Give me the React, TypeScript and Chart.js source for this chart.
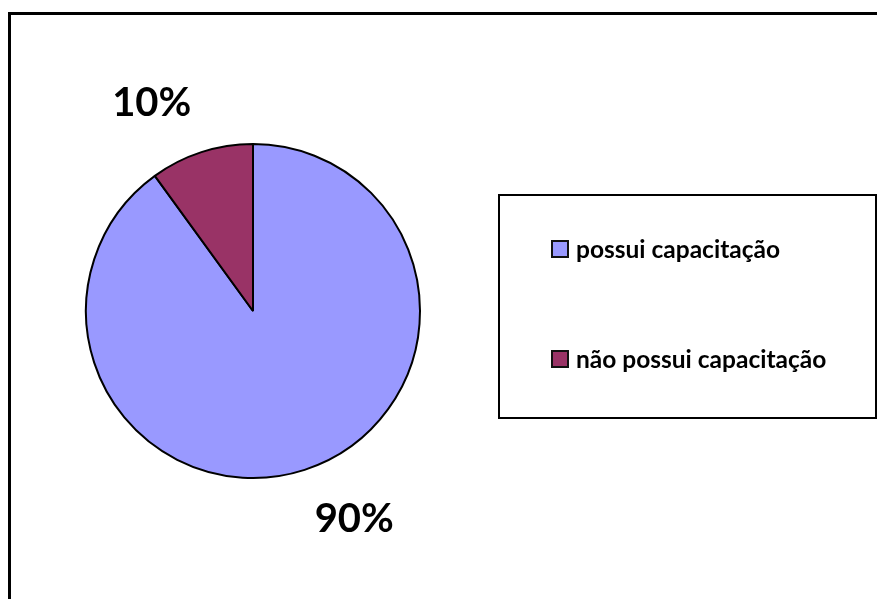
import React, { useEffect, useRef } from "react";
import { Chart, registerables } from "chart.js";

Chart.register(...registerables);

const categories = ["possui capacitação", "não possui capacitação"];
const values = [90, 10];
const colors = ["#9999FF", "#993366"];

const FONT = "Lato, 'Open Sans', sans-serif";

const labelPlugin = {
  id: "sliceLabels",
  afterDatasetsDraw(chart: any) {
    const ctx = chart.ctx;
    const meta = chart.getDatasetMeta(0);
    const data = chart.data.datasets[0].data as number[];
    const total = data.reduce((a, b) => a + b, 0);
    const shift = (-8 * Math.PI) / 180;
    ctx.save();
    ctx.fillStyle = "#000";
    ctx.font = `bold 40px ${FONT}`;
    ctx.textAlign = "center";
    ctx.textBaseline = "middle";
    meta.data.forEach((arc: any, i: number) => {
      const p = arc.getProps(["x", "y", "startAngle", "endAngle", "outerRadius"], true);
      const mid = (p.startAngle + p.endAngle) / 2 + shift;
      const r = p.outerRadius + 64;
      const tx = p.x + Math.cos(mid) * r;
      const ty = p.y + Math.sin(mid) * r;
      ctx.fillText(Math.round((data[i] / total) * 100) + "%", tx, ty);
    });
    ctx.restore();
  },
};

const boxLegendPlugin = {
  id: "boxLegend",
  afterDraw(chart: any) {
    const ctx = chart.ctx;
    const area = chart.chartArea;
    const left = area.right + 78;
    const top = 187;
    const w = 377;
    const h = 223;
    ctx.save();
    ctx.strokeStyle = "#000";
    ctx.lineWidth = 2;
    ctx.strokeRect(left, top, w, h);
    const labels = chart.data.labels as string[];
    const ds = chart.data.datasets[0];
    const rowsY = [top + 54, top + 164];
    ctx.font = `bold 24.5px ${FONT}`;
    ctx.textBaseline = "middle";
    ctx.textAlign = "left";
    labels.forEach((lab, i) => {
      const y = rowsY[i];
      ctx.fillStyle = ds.backgroundColor[i];
      ctx.fillRect(left + 53, y - 8, 16, 16);
      ctx.lineWidth = 2;
      ctx.strokeStyle = "#111";
      ctx.strokeRect(left + 53, y - 8, 16, 16);
      ctx.fillStyle = "#000";
      ctx.fillText(lab, left + 77, y + 1);
    });
    ctx.restore();
  },
};

export default function App() {
  const ref = useRef<HTMLCanvasElement>(null);
  useEffect(() => {
    const chart = new Chart(ref.current!, {
      type: "pie",
      data: {
        labels: categories,
        datasets: [
          {
            data: values,
            backgroundColor: colors,
            borderColor: "#000",
            borderWidth: 2,
          },
        ],
      },
      options: {
        animation: false,
        responsive: false,
        layout: { padding: { left: 77, right: 464, top: 135, bottom: 120 } },
        plugins: {
          legend: { display: false },
          tooltip: { enabled: false },
        },
      },
      plugins: [labelPlugin, boxLegendPlugin],
    });
    return () => chart.destroy();
  }, []);
  return (
    <div style={{ position: "relative", width: 877, height: 591, overflow: "hidden", background: "#fff" }}>
      <div
        style={{
          position: "absolute",
          left: 0,
          top: 4,
          width: 920,
          height: 640,
          border: "3px solid #000",
          boxSizing: "border-box",
        }}
      />
      <canvas ref={ref} width={877} height={591} style={{ position: "absolute", left: 0, top: 0 }} />
    </div>
  );
}
